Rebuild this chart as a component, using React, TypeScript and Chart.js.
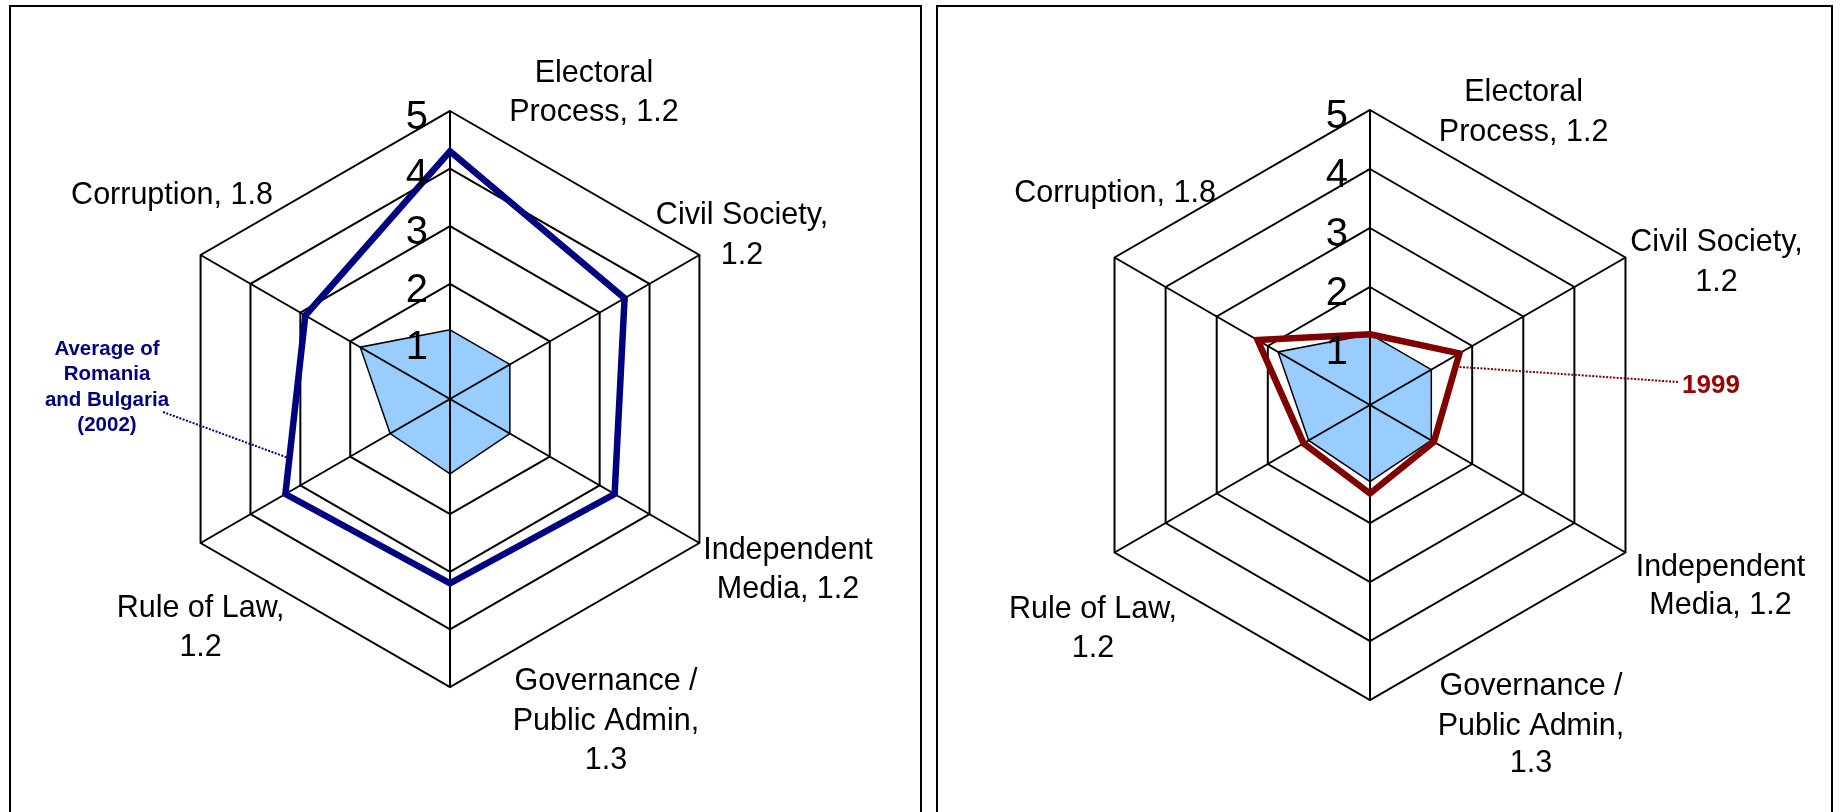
import React, { useEffect, useRef } from 'react';
import { Chart, registerables } from 'chart.js';

Chart.register(...registerables);

// ---------- data ----------
const categoryLabels: string[][] = [
  ['Electoral', 'Process, 1.2'],
  ['Civil Society,', '1.2'],
  ['Independent', 'Media, 1.2'],
  ['Governance /', 'Public Admin,', '1.3'],
  ['Rule of Law,', '1.2'],
  ['Corruption, 1.8'],
];
const currentScores = [1.2, 1.2, 1.2, 1.3, 1.2, 1.8];
const average2002Scores = [4.3, 3.5, 3.3, 3.2, 3.3, 2.9];
const scores1999 = [1.2, 1.75, 1.25, 1.5, 1.3, 2.2];
const tickValues = [1, 2, 3, 4, 5];
const tickLabels = ['1', '2', '3', '4', '5'];
const scaleMin = 0;
const scaleMax = 5;
const average2002Label = ['Average of', 'Romania', 'and Bulgaria', '(2002)'];
const label1999 = ['1999'];

// ---------- layout / styles ----------
const FONT = '"Liberation Sans", Arial, Helvetica, sans-serif';
const LABEL_SIZE = 30.5;
const TICK_SIZE = 40;

type LabelOffset = { dx: number; lines: number[] };

interface PanelCfg {
  key: string;
  canvasLeft: number;
  canvasTop: number;
  width: number;
  height: number;
  cx: number;
  cy: number;
  radius: number;
  lineData: number[];
  lineColor: string;
  labelOffsets: LabelOffset[];
  annotation: {
    lines: string[];
    color: string;
    size: number;
    align: CanvasTextAlign;
    x: number;
    baseline: number;
    lineHeight: number;
    leaderStart: { x: number; y: number };
    segment: [number, number];
    t: number;
  };
}

const panels: PanelCfg[] = [
  {
    key: 'left',
    canvasLeft: 11,
    canvasTop: 7,
    width: 909,
    height: 805,
    cx: 439,
    cy: 392,
    radius: 288,
    lineData: average2002Scores,
    lineColor: '#000080',
    labelOffsets: [
      { dx: 144, lines: [-40, -1] },
      { dx: 42.6, lines: [-42, -2] },
      { dx: 88.6, lines: [5, 44] },
      { dx: 156, lines: [-8, 32, 71] },
      { dx: 0, lines: [63, 102] },
      { dx: -28.6, lines: [-62.4] },
    ],
    annotation: {
      lines: average2002Label,
      color: '#000080',
      size: 20.5,
      align: 'center',
      x: 96,
      baseline: 348,
      lineHeight: 25.3,
      leaderStart: { x: 152, y: 405 },
      segment: [4, 5],
      t: 0.2,
    },
  },
  {
    key: 'right',
    canvasLeft: 938,
    canvasTop: 7,
    width: 893,
    height: 805,
    cx: 432,
    cy: 398,
    radius: 295,
    lineData: scores1999,
    lineColor: '#800000',
    labelOffsets: [
      { dx: 153.6, lines: [-20.4, 19.5] },
      { dx: 91, lines: [-17.7, 22.1] },
      { dx: 95, lines: [12, 50.8] },
      { dx: 161, lines: [-16.4, 23.5, 61.3] },
      { dx: -21.5, lines: [54.5, 93.3] },
      { dx: 0.5, lines: [-67] },
    ],
    annotation: {
      lines: label1999,
      color: '#990000',
      size: 26,
      align: 'left',
      x: 744,
      baseline: 386,
      lineHeight: 30,
      leaderStart: { x: 740, y: 375 },
      segment: [1, 2],
      t: 0.15,
    },
  },
];

function makeDecorPlugin(cfg: PanelCfg) {
  return {
    id: 'radarDecor_' + cfg.key,
    afterDatasetDraw(chart: any, args: any) {
      if (args.index !== 1) return;
      const s = chart.scales.r;
      const ctx: CanvasRenderingContext2D = chart.ctx;
      ctx.save();
      // spokes drawn over the filled area
      ctx.strokeStyle = '#000';
      ctx.lineWidth = 2;
      for (let i = 0; i < categoryLabels.length; i++) {
        const p = s.getPointPosition(i, s.drawingArea);
        ctx.beginPath();
        ctx.moveTo(s.xCenter, s.yCenter);
        ctx.lineTo(p.x, p.y);
        ctx.stroke();
      }
      // dotted leader line to the series
      const a = cfg.annotation;
      const [ia, ib] = a.segment;
      const pA = s.getPointPosition(ia, s.getDistanceFromCenterForValue(cfg.lineData[ia]));
      const pB = s.getPointPosition(ib, s.getDistanceFromCenterForValue(cfg.lineData[ib]));
      const ex = pA.x + (pB.x - pA.x) * a.t;
      const ey = pA.y + (pB.y - pA.y) * a.t;
      ctx.strokeStyle = cfg.lineColor;
      ctx.lineWidth = 2;
      ctx.setLineDash([2, 1.5]);
      ctx.beginPath();
      ctx.moveTo(a.leaderStart.x, a.leaderStart.y);
      ctx.lineTo(ex, ey);
      ctx.stroke();
      ctx.restore();
    },
    afterDraw(chart: any) {
      const s = chart.scales.r;
      const ctx: CanvasRenderingContext2D = chart.ctx;
      ctx.save();
      // tick labels
      ctx.fillStyle = '#000';
      ctx.font = `${TICK_SIZE}px ${FONT}`;
      ctx.textAlign = 'right';
      ctx.textBaseline = 'alphabetic';
      tickValues.forEach((v, i) => {
        const d = s.getDistanceFromCenterForValue(v);
        ctx.fillText(tickLabels[i], s.xCenter - 22, s.yCenter - d + 18);
      });
      // category labels
      ctx.font = `${LABEL_SIZE}px ${FONT}`;
      ctx.textAlign = 'center';
      categoryLabels.forEach((lines, i) => {
        const p = s.getPointPosition(i, s.drawingArea);
        const off = cfg.labelOffsets[i];
        lines.forEach((ln, j) => {
          ctx.fillText(ln, p.x + off.dx, p.y + off.lines[j] + 11);
        });
      });
      // annotation
      const a = cfg.annotation;
      ctx.font = `bold ${a.size}px ${FONT}`;
      ctx.fillStyle = a.color;
      ctx.textAlign = a.align;
      a.lines.forEach((ln, j) => {
        ctx.fillText(ln, a.x, a.baseline + j * a.lineHeight);
      });
      ctx.restore();
    },
  };
}

function RadarPanel({ cfg }: { cfg: PanelCfg }) {
  const ref = useRef<HTMLCanvasElement>(null);
  useEffect(() => {
    if (!ref.current) return;
    const side = cfg.radius * 2;
    const padLeft = cfg.cx - cfg.radius;
    const padTop = cfg.cy - cfg.radius;
    const chart = new Chart(ref.current, {
      type: 'radar',
      data: {
        labels: categoryLabels.map((l) => l.join(' ')),
        datasets: [
          {
            label: 'series',
            data: cfg.lineData,
            borderColor: cfg.lineColor,
            borderWidth: 6.5,
            backgroundColor: 'transparent',
            fill: false,
            pointRadius: 0,
            pointHoverRadius: 0,
            borderJoinStyle: 'miter',
            tension: 0,
          } as any,
          {
            label: 'current',
            data: currentScores,
            borderColor: '#000',
            borderWidth: 1.5,
            backgroundColor: '#99CCFF',
            fill: true,
            pointRadius: 0,
            pointHoverRadius: 0,
            borderJoinStyle: 'miter',
            tension: 0,
          } as any,
        ],
      },
      options: {
        responsive: false,
        animation: false,
        devicePixelRatio: 1,
        events: [],
        layout: {
          padding: {
            left: padLeft,
            top: padTop,
            right: cfg.width - padLeft - side,
            bottom: cfg.height - padTop - side,
          },
        },
        plugins: {
          legend: { display: false },
          tooltip: { enabled: false },
        },
        scales: {
          r: {
            min: scaleMin,
            max: scaleMax,
            ticks: { display: false, stepSize: 1 },
            grid: { color: '#000', lineWidth: 2, circular: false },
            angleLines: { display: false },
            pointLabels: { display: false },
          },
        },
      },
      plugins: [makeDecorPlugin(cfg)],
    });
    return () => chart.destroy();
  }, [cfg]);
  return (
    <canvas
      ref={ref}
      width={cfg.width}
      height={cfg.height}
      style={{
        position: 'absolute',
        left: cfg.canvasLeft,
        top: cfg.canvasTop,
        width: cfg.width,
        height: cfg.height,
      }}
    />
  );
}

export default function App() {
  return (
    <div
      style={{
        position: 'absolute',
        left: 0,
        top: 0,
        width: 1840,
        height: 812,
        overflow: 'hidden',
        background: '#fff',
      }}
    >
      <div
        style={{
          position: 'absolute',
          left: 9,
          top: 5,
          width: 913,
          height: 900,
          border: '2px solid #000',
          boxSizing: 'border-box',
        }}
      />
      <div
        style={{
          position: 'absolute',
          left: 936,
          top: 5,
          width: 897,
          height: 900,
          border: '2px solid #000',
          boxSizing: 'border-box',
        }}
      />
      {panels.map((p) => (
        <RadarPanel key={p.key} cfg={p} />
      ))}
    </div>
  );
}
